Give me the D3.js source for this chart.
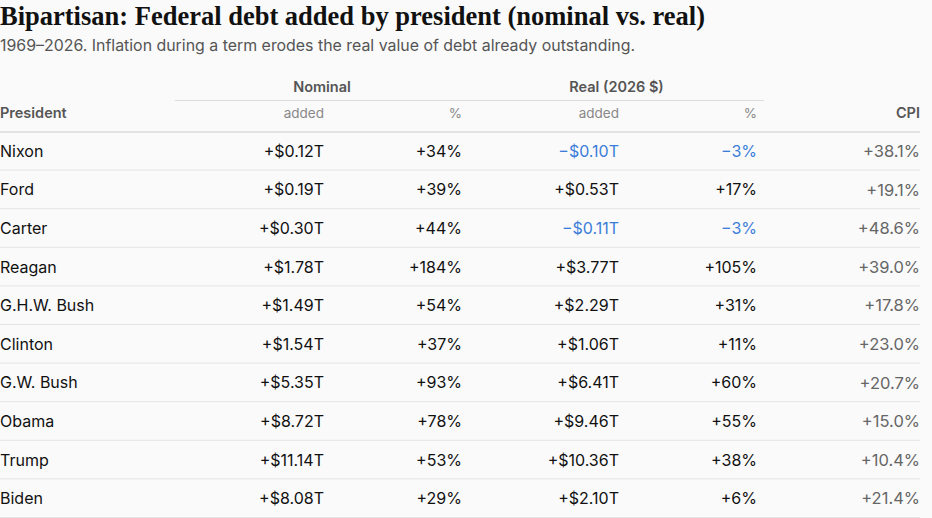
<!DOCTYPE html>
<html>
<head>
  <title>Federal debt added by president</title>
  <script src="https://d3js.org/d3.v7.min.js"></script>
  <style>
    body { margin: 0; background: #fafafa; }
    svg { display: block; }
  </style>
</head>
<body>
  <div id="table"></div>
  <script>
    const presidents = ["Nixon", "Ford", "Carter", "Reagan", "G.H.W. Bush", "Clinton", "G.W. Bush", "Obama", "Trump", "Biden"];
    const nominalAdded = [0.12, 0.19, 0.30, 1.78, 1.49, 1.54, 5.35, 8.72, 11.14, 8.08];   // $T
    const nominalPct = [34, 39, 44, 184, 54, 37, 93, 78, 53, 29];
    const realAdded = [-0.10, 0.53, -0.11, 3.77, 2.29, 1.06, 6.41, 9.46, 10.36, 2.10];    // 2026 $T
    const realPct = [-3, 17, -3, 105, 31, 11, 60, 55, 38, 6];
    const cpiChange = [38.1, 19.1, 48.6, 39.0, 17.8, 23.0, 20.7, 15.0, 10.4, 21.4];

    const width = 932, height = 518;
    const tableLeft = 0, tableRight = 920;

    const sign = v => (v < 0 ? "\u2212" : "+");
    const fmtT = v => sign(v) + "$" + Math.abs(v).toFixed(2) + "T";
    const fmtPct = v => sign(v) + Math.abs(v) + "%";
    const fmtCpi = v => sign(v) + Math.abs(v).toFixed(1) + "%";

    const rows = presidents.map((p, i) => ({
      name: p,
      cells: [
        { text: fmtT(nominalAdded[i]), neg: nominalAdded[i] < 0 },
        { text: fmtPct(nominalPct[i]), neg: nominalPct[i] < 0 },
        { text: fmtT(realAdded[i]), neg: realAdded[i] < 0 },
        { text: fmtPct(realPct[i]), neg: realPct[i] < 0 },
        { text: fmtCpi(cpiChange[i]), cpi: true }
      ]
    }));

    // column cell edges (left..right) for the five value columns
    const colEdges = [175, 331, 469, 626, 764, 928];
    const pad = 7;
    const subHeads = ["added", "%", "added", "%"];
    const groups = [
      { label: "Nominal", from: 0, to: 2 },
      { label: "Real (2026 $)", from: 2, to: 4 }
    ];

    const y = d3.scaleBand().domain(presidents).range([132, 518]);

    const svg = d3.select("#table").append("svg")
      .attr("width", width)
      .attr("height", height);

    const sans = "Inter, 'Noto Sans', sans-serif";

    svg.append("text")
      .attr("x", 0).attr("y", 25)
      .attr("font-family", "'Liberation Serif', serif")
      .attr("font-weight", 700)
      .attr("font-size", 26.5)
      .attr("fill", "#111")
      .text("Bipartisan: Federal debt added by president (nominal vs. real)");

    svg.append("text")
      .attr("x", 0).attr("y", 51)
      .attr("font-family", sans)
      .attr("font-size", 15.9)
      .attr("fill", "#555")
      .text("1969\u20132026. Inflation during a term erodes the real value of debt already outstanding.");

    // group headers
    groups.forEach(g => {
      const x0 = colEdges[g.from], x1 = colEdges[g.to];
      svg.append("text")
        .attr("x", (x0 + x1) / 2).attr("y", 92)
        .attr("text-anchor", "middle")
        .attr("font-family", sans)
        .attr("font-weight", 600)
        .attr("font-size", 14.5)
        .attr("fill", "#555")
        .text(g.label);
      svg.append("line")
        .attr("x1", x0).attr("x2", x1)
        .attr("y1", 100.5).attr("y2", 100.5)
        .attr("stroke", "#ddd");
    });

    // column headers
    svg.append("text")
      .attr("x", 0).attr("y", 118)
      .attr("font-family", sans)
      .attr("font-weight", 600)
      .attr("font-size", 14.5)
      .attr("fill", "#555")
      .text("President");

    subHeads.forEach((h, j) => {
      svg.append("text")
        .attr("x", colEdges[j + 1] - pad).attr("y", 118)
        .attr("text-anchor", "end")
        .attr("font-family", sans)
        .attr("font-size", 13.5)
        .attr("fill", "#888")
        .text(h);
    });

    svg.append("text")
      .attr("x", tableRight).attr("y", 118)
      .attr("text-anchor", "end")
      .attr("font-family", sans)
      .attr("font-weight", 600)
      .attr("font-size", 14.5)
      .attr("fill", "#555")
      .text("CPI");

    svg.append("line")
      .attr("x1", tableLeft).attr("x2", tableRight)
      .attr("y1", 132).attr("y2", 132)
      .attr("stroke", "#ccc");

    // body rows
    const row = svg.selectAll(".row")
      .data(rows)
      .enter()
      .append("g")
      .attr("class", "row")
      .attr("transform", d => `translate(0,${y(d.name)})`);

    row.append("line")
      .attr("x1", tableLeft).attr("x2", tableRight)
      .attr("y1", y.bandwidth() - 0.5).attr("y2", y.bandwidth() - 0.5)
      .attr("stroke", "#e4e4e4");

    row.append("text")
      .attr("x", 0).attr("y", y.bandwidth() / 2)
      .attr("dy", "0.35em")
      .attr("font-family", sans)
      .attr("font-size", 16)
      .attr("fill", "#111")
      .text(d => d.name);

    row.selectAll(".cell")
      .data(d => d.cells)
      .enter()
      .append("text")
      .attr("class", "cell")
      .attr("x", (c, j) => j === 4 ? tableRight : colEdges[j + 1] - pad)
      .attr("y", y.bandwidth() / 2)
      .attr("dy", "0.35em")
      .attr("text-anchor", "end")
      .attr("font-family", sans)
      .attr("font-size", c => c.cpi ? 16.5 : 16)
      .attr("fill", c => c.neg ? "#3b7dd8" : c.cpi ? "#666" : "#111")
      .text(c => c.text);
  </script>
</body>
</html>
